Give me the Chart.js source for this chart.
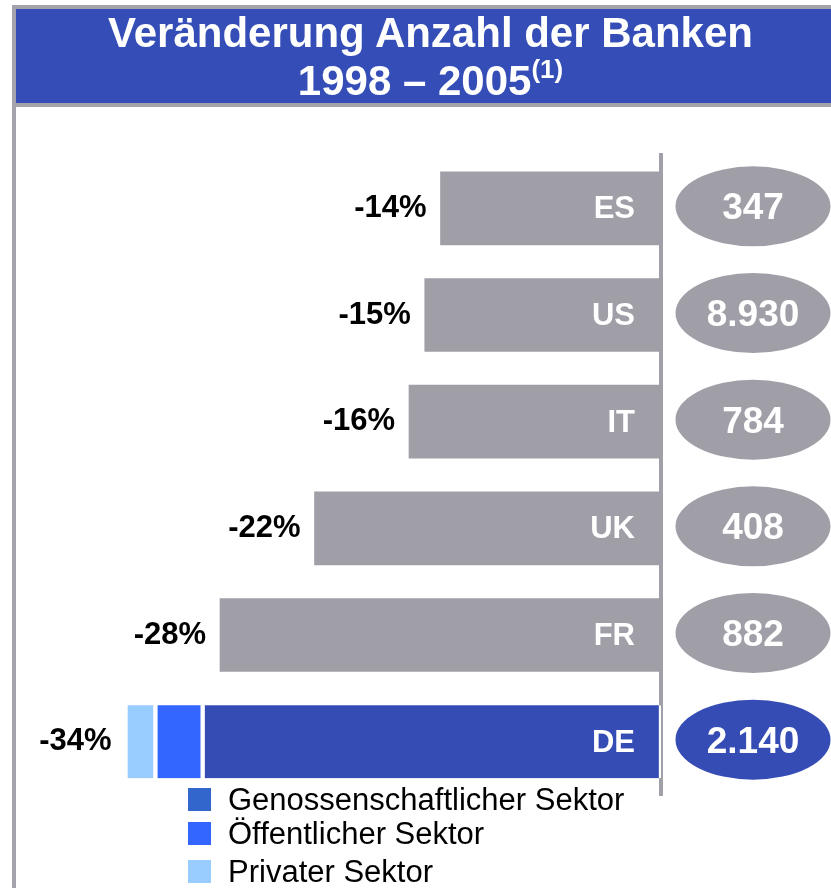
<!DOCTYPE html>
<html>
<head>
<meta charset="utf-8">
<script src="https://cdn.jsdelivr.net/npm/chart.js@4"></script>
<style>
  body { margin: 0; background: #fff; font-family: "Liberation Sans", Arial, sans-serif; }
  #frameTop { position: absolute; left: 12px; top: 5px; width: 819px; height: 4px; background: #a4a3ab; }
  #frameLeft { position: absolute; left: 12px; top: 5px; width: 4px; height: 883px; background: #a4a3ab; }
  #title { position: absolute; left: 16px; top: 9px; width: 815px; height: 94px; background: #344db7; }
  #titleLine { position: absolute; left: 16px; top: 103px; width: 815px; height: 4px; background: #a4a3ab; }
  #titleText { position: absolute; left: 7px; top: -0.5px; width: 815px; text-align: center; color: #fff;
               font-weight: bold; font-size: 42px; line-height: 48px; }
  #titleText sup { font-size: 26px; line-height: 0; position: relative; top: -2px; vertical-align: super; }
  #wrap { position: absolute; left: 0; top: 0; width: 831px; height: 888px; }
  #legend { position: absolute; left: 188px; top: 0; }
  .item { position: absolute; left: 0; white-space: nowrap; font-size: 31px; line-height: 23px; color: #000; }
  .item span { display: inline-block; width: 23px; height: 23px; vertical-align: top; margin-right: 17px; }
</style>
</head>
<body>
<div id="wrap"><canvas id="chart"></canvas></div>
<div id="frameTop"></div>
<div id="frameLeft"></div>
<div id="title"><div id="titleText">Veränderung Anzahl der Banken<br>1998 – 2005<sup>(1)</sup></div></div>
<div id="titleLine"></div>
<div id="legend"></div>
<script>
const countries = ['ES', 'US', 'IT', 'UK', 'FR', 'DE'];
const changePct = [-14, -15, -16, -22, -28, -34];
const bankCount = [347, 8930, 784, 408, 882, 2140];
const sectorNames = ['Genossenschaftlicher Sektor', 'Öffentlicher Sektor', 'Privater Sektor'];
const deSectorPct = [-29.1, -3.0, -1.9];

const GREY = '#a09fa8';
const BLUE = '#354cb5';
const sectorColors = ['#354cb5', '#3366ff', '#99ccff'];
const legendColors = ['#3366cc', '#3366ff', '#99ccff'];
const legendTops = [788, 822, 860];
const FONT = '"Liberation Sans", Arial, sans-serif';

const deIndex = countries.indexOf('DE');
const otherData = changePct.map((v, i) => i === deIndex ? null : v);

const datasets = [{
  label: 'Gesamt',
  data: otherData,
  backgroundColor: GREY,
  borderWidth: 0,
  barThickness: 73
}];
sectorNames.forEach((name, k) => {
  datasets.push({
    label: name,
    data: countries.map((c, i) => i === deIndex ? deSectorPct[k] : null),
    backgroundColor: sectorColors[k],
    borderColor: '#fff',
    borderWidth: { left: 2.5, right: 2.5, top: 0, bottom: 0 },
    borderSkipped: false,
    barThickness: 73
  });
});

function fmt(n) {
  return String(n).replace(/\B(?=(\d{3})+(?!\d))/g, '.');
}

const rowLabels = {
  id: 'rowLabels',
  afterDraw(chart) {
    const { ctx, chartArea, scales: { x, y } } = chart;
    ctx.save();
    countries.forEach((c, i) => {
      const cy = y.getPixelForValue(i);
      const left = x.getPixelForValue(changePct[i]);

      ctx.textBaseline = 'alphabetic';
      ctx.textAlign = 'right';
      ctx.fillStyle = '#000';
      ctx.font = 'bold 31px ' + FONT;
      ctx.fillText(changePct[i] + '%', left - 14, cy + 8.5);

      ctx.fillStyle = '#fff';
      ctx.font = 'bold 31px ' + FONT;
      ctx.fillText(c, chartArea.right - 26, cy + 10);

      const ex = chartArea.right + 92, ey = cy - 2;
      ctx.beginPath();
      ctx.ellipse(ex, ey, 77.5, 40, 0, 0, Math.PI * 2);
      ctx.fillStyle = i === deIndex ? BLUE : GREY;
      ctx.fill();

      ctx.fillStyle = '#fff';
      ctx.textAlign = 'center';
      ctx.font = 'bold 37px ' + FONT;
      ctx.fillText(fmt(bankCount[i]), ex, cy + 11);
    });
    ctx.restore();
  }
};

const chart = new Chart(document.getElementById('chart'), {
  type: 'bar',
  data: { labels: countries, datasets: datasets },
  options: {
    indexAxis: 'y',
    responsive: true,
    maintainAspectRatio: false,
    animation: false,
    layout: { padding: { top: 155, bottom: 93, left: 31, right: 170 } },
    plugins: { legend: { display: false }, tooltip: { enabled: false } },
    scales: {
      x: { stacked: true, min: -40, max: 0, display: false },
      y: {
        stacked: true,
        position: 'right',
        z: 1,
        grid: { display: false, drawTicks: false },
        ticks: { display: false },
        border: { display: true, width: 4, color: '#a0a0a8' }
      }
    }
  },
  plugins: [rowLabels]
});

// legend built from the sector datasets
const legendEl = document.getElementById('legend');
chart.data.datasets.slice(1).forEach((ds, k) => {
  const item = document.createElement('div');
  item.className = 'item';
  item.style.top = legendTops[k] + 'px';
  item.innerHTML = '<span style="background:' + legendColors[k] + '"></span>' + ds.label;
  legendEl.appendChild(item);
});
</script>
</body>
</html>
